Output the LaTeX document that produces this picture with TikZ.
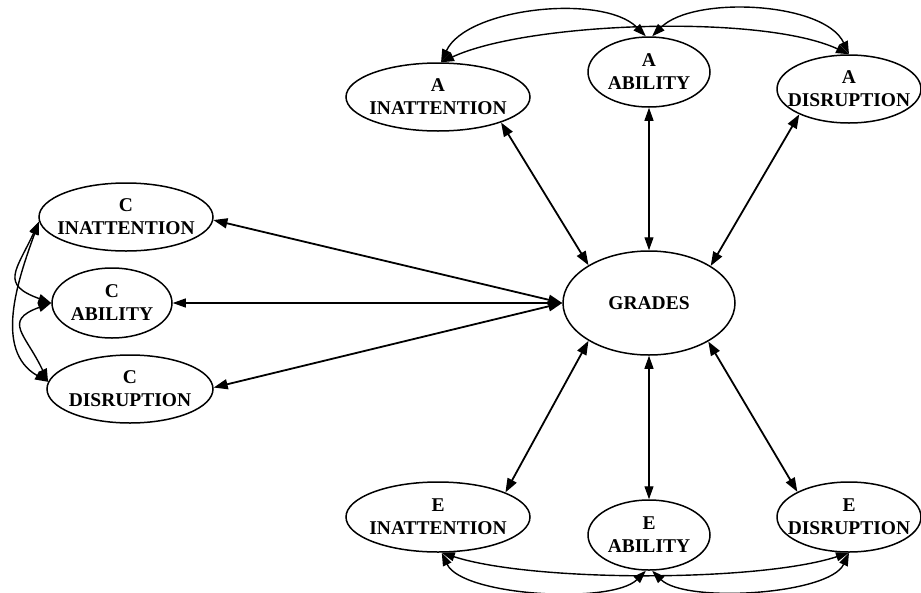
\documentclass[tikz,border=0pt]{standalone}
\usepackage{fontspec}
\setmainfont{Liberation Serif}
\usetikzlibrary{shapes.geometric,arrows.meta}
\begin{document}
\begin{tikzpicture}[x=1pt,y=-1pt,
  var/.style={draw, ellipse, line width=1.5pt, inner xsep=-12pt, inner ysep=0pt,
    align=center, font=\fontsize{19.5}{23}\selectfont\bfseries},
  link/.style={line width=1.8pt, {Triangle[length=14pt,width=10pt]}-{Triangle[length=14pt,width=10pt]}},
  thinlink/.style={line width=1.2pt, {Triangle[length=13pt,width=9pt]}-{Triangle[length=13pt,width=9pt]}},
  corr/.style={line width=1.4pt, {Triangle[length=13pt,width=9pt]}-{Triangle[length=13pt,width=9pt]}}
]
\useasboundingbox (0,0) rectangle (921,592);
% nodes
\node[var, minimum width=184pt, minimum height=68pt] (ainatt) at (438,97) {A\\INATTENTION};
\node[var, minimum width=122pt, minimum height=70pt] (aabil) at (649,72) {A\\ABILITY};
\node[var, minimum width=144pt, minimum height=68pt] (adisr) at (849,89) {A\\DISRUPTION};
\node[var, minimum width=172pt, minimum height=104pt] (grades) at (649,303) {GRADES};
\node[var, minimum width=174pt, minimum height=68pt] (cinatt) at (126,217) {C\\INATTENTION};
\node[var, minimum width=120pt, minimum height=70pt] (cabil) at (112,303) {C\\ABILITY};
\node[var, minimum width=166pt, minimum height=68pt] (cdisr) at (130,389) {C\\DISRUPTION};
\node[var, minimum width=184pt, minimum height=70pt] (einatt) at (438,517) {E\\INATTENTION};
\node[var, minimum width=122pt, minimum height=70pt] (eabil) at (649,535) {E\\ABILITY};
\node[var, minimum width=144pt, minimum height=70pt] (edisr) at (849,517) {E\\DISRUPTION};
% straight links to GRADES
\draw[link] (ainatt.338) -- (grades.148);
\draw[thinlink] (aabil.270) -- (grades.90);
\draw[link] (adisr.207) -- (grades.31);
\draw[link] (cinatt.358) -- (grades.180);
\draw[thinlink] (cabil.0) -- (grades.180);
\draw[link] (cdisr.1) -- (grades.180);
\draw[link] (einatt.20) -- (grades.212);
\draw[thinlink] (eabil.90) -- (grades.270);
\draw[link] (edisr.154) -- (grades.327);
% top correlations
\draw[corr] (ainatt.85) to[out=65,in=135,looseness=0.75] (aabil.95);
\draw[corr] (aabil.85) to[out=45,in=115,looseness=0.75] (adisr.90);
\draw[corr] (ainatt.85) to[out=25,in=155,looseness=0.6] (adisr.90);
% bottom correlations
\draw[corr] (einatt.276) to[out=295,in=225,looseness=0.6] (eabil.265);
\draw[corr] (eabil.275) to[out=315,in=245,looseness=0.6] (edisr.270);
\draw[corr] (einatt.276) to[out=342,in=198,looseness=0.6] (edisr.270);
% left correlations
\draw[corr] (cinatt.183) to[out=245,in=160,looseness=1.7] (cabil.180);
\draw[corr] (cabil.180) to[out=200,in=115,looseness=1.7] (cdisr.175);
\draw[corr] (cinatt.183) to[out=250,in=150,looseness=1] (cdisr.175);
\end{tikzpicture}
\end{document}
